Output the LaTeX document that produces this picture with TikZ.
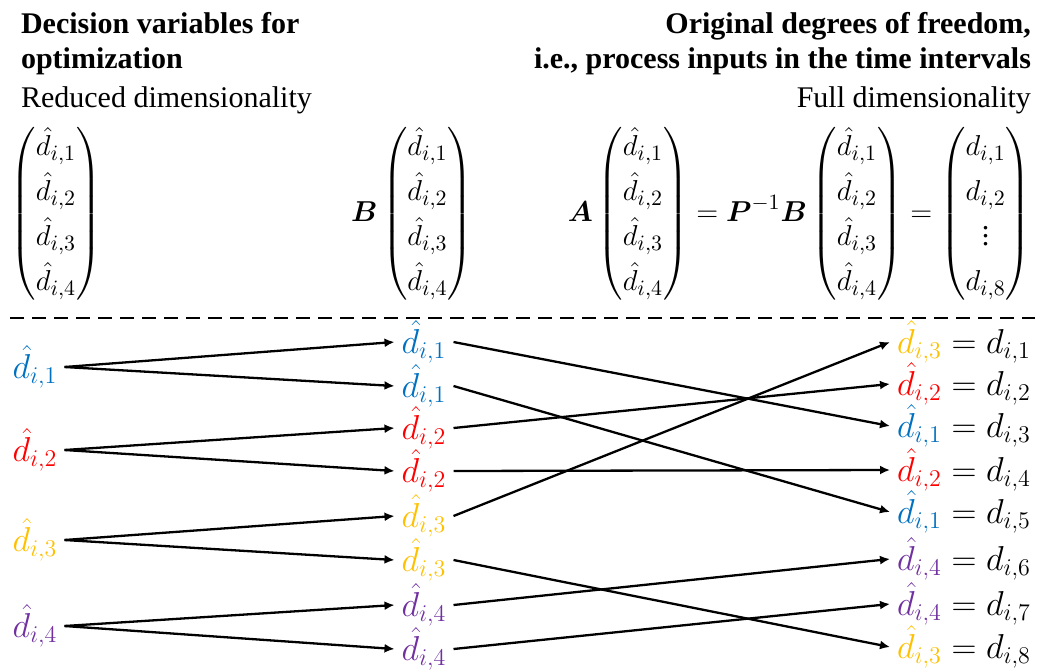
\documentclass[tikz,border=0pt]{standalone}
\usepackage{amsmath}
\usepackage{fontspec}
\setmainfont{Liberation Serif}
\usetikzlibrary{arrows.meta}
\definecolor{dblue}{HTML}{0070C0}
\definecolor{dred}{HTML}{FF0000}
\definecolor{dyellow}{HTML}{FFC000}
\definecolor{dpurple}{HTML}{7030A0}
\newcommand{\dvar}[1]{\hat{d}_{i,#1}}
\renewcommand{\arraystretch}{1.25}

\begin{document}
\begin{tikzpicture}[x=0.5pt,y=-0.5pt,>={Latex[length=5pt,width=4.5pt]},
    every node/.style={font=\fontsize{15}{18}\selectfont},
    lbl/.style={font=\fontsize{16.5}{19}\selectfont},
    link/.style={->,line width=1.15pt}]
    \useasboundingbox (0,0) rectangle (1045,671);
    % headings
    \node[anchor=base west,font=\fontsize{15}{18}\selectfont\bfseries] (hl1) at (14,33) {Decision variables for};
    \node[anchor=base west,font=\fontsize{15}{18}\selectfont\bfseries] (hl2) at (14,68) {optimization};
    \node[anchor=base west] (hl3) at (14,107) {Reduced dimensionality};
    \node[anchor=base east,font=\fontsize{15}{18}\selectfont\bfseries] (hr1) at (1038,33) {Original degrees of freedom,};
    \node[anchor=base east,font=\fontsize{15}{18}\selectfont\bfseries] (hr2) at (1038,68) {i.e., process inputs in the time intervals};
    \node[anchor=base east] (hr3) at (1038,107) {Full dimensionality};
    % vectors
    \node (v1) at (56,214) {$\begin{pmatrix}\dvar{1}\\\dvar{2}\\\dvar{3}\\\dvar{4}\end{pmatrix}$};
    \node (v2) at (412,214) {$\boldsymbol{B}\begin{pmatrix}\dvar{1}\\\dvar{2}\\\dvar{3}\\\dvar{4}\end{pmatrix}$};
    \node[anchor=east] (v3) at (1038,214) {$\boldsymbol{A}\begin{pmatrix}\dvar{1}\\\dvar{2}\\\dvar{3}\\\dvar{4}\end{pmatrix}
        =\boldsymbol{P}^{-1}\boldsymbol{B}\begin{pmatrix}\dvar{1}\\\dvar{2}\\\dvar{3}\\\dvar{4}\end{pmatrix}
        =\begin{pmatrix}d_{i,1}\\d_{i,2}\\\vdots\\d_{i,8}\end{pmatrix}$};
    \draw[dashed,line width=1.35pt,dash pattern=on 7pt off 4pt] (10,318) -- (1035,318);
    % reduced variables
    \node[lbl] (l1) at (35,367) {$\color{dblue}\dvar{1}$};
    \node[lbl] (l2) at (35,450) {$\color{dred}\dvar{2}$};
    \node[lbl] (l3) at (35,540) {$\color{dyellow}\dvar{3}$};
    \node[lbl] (l4) at (35,626) {$\color{dpurple}\dvar{4}$};
    % after B
    \node[lbl] (m1) at (424,342) {$\color{dblue}\dvar{1}$};
    \node[lbl] (m2) at (424,386) {$\color{dblue}\dvar{1}$};
    \node[lbl] (m3) at (424,428) {$\color{dred}\dvar{2}$};
    \node[lbl] (m4) at (424,471) {$\color{dred}\dvar{2}$};
    \node[lbl] (m5) at (424,516) {$\color{dyellow}\dvar{3}$};
    \node[lbl] (m6) at (424,560) {$\color{dyellow}\dvar{3}$};
    \node[lbl] (m7) at (424,605) {$\color{dpurple}\dvar{4}$};
    \node[lbl] (m8) at (424,649) {$\color{dpurple}\dvar{4}$};
    % after P^-1
    \node[lbl,anchor=west] (r1) at (890,342) {${\color{dyellow}\dvar{3}}=d_{i,1}$};
    \node[lbl,anchor=west] (r2) at (890,384) {${\color{dred}\dvar{2}}=d_{i,2}$};
    \node[lbl,anchor=west] (r3) at (890,426) {${\color{dblue}\dvar{1}}=d_{i,3}$};
    \node[lbl,anchor=west] (r4) at (890,470) {${\color{dred}\dvar{2}}=d_{i,4}$};
    \node[lbl,anchor=west] (r5) at (890,512) {${\color{dblue}\dvar{1}}=d_{i,5}$};
    \node[lbl,anchor=west] (r6) at (890,559) {${\color{dpurple}\dvar{4}}=d_{i,6}$};
    \node[lbl,anchor=west] (r7) at (890,604) {${\color{dpurple}\dvar{4}}=d_{i,7}$};
    \node[lbl,anchor=west] (r8) at (890,647) {${\color{dyellow}\dvar{3}}=d_{i,8}$};
    \draw[link] (l1.east)--(m1.west); \draw[link] (l1.east)--(m2.west);
    \draw[link] (l2.east)--(m3.west); \draw[link] (l2.east)--(m4.west);
    \draw[link] (l3.east)--(m5.west); \draw[link] (l3.east)--(m6.west);
    \draw[link] (l4.east)--(m7.west); \draw[link] (l4.east)--(m8.west);
    \draw[link] (m1.east)--(r3.west); \draw[link] (m2.east)--(r5.west);
    \draw[link] (m3.east)--(r2.west); \draw[link] (m4.east)--(r4.west);
    \draw[link] (m5.east)--(r1.west); \draw[link] (m6.east)--(r8.west);
    \draw[link] (m7.east)--(r6.west); \draw[link] (m8.east)--(r7.west);
\end{tikzpicture}
\end{document}
